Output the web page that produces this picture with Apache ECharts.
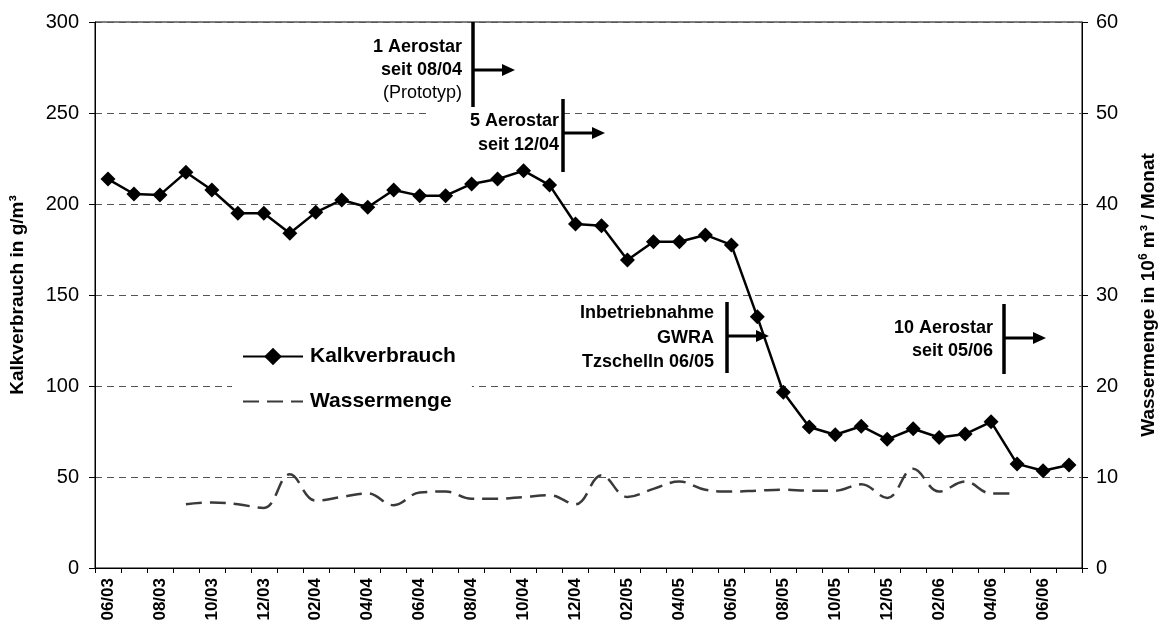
<!DOCTYPE html>
<html>
<head>
<meta charset="utf-8">
<script src="https://cdn.jsdelivr.net/npm/echarts@6/dist/echarts.min.js"></script>
<style>
  html, body { margin: 0; padding: 0; background: #fff; overflow: hidden; }
  #main { width: 1163px; height: 628px; }
</style>
</head>
<body>
<div id="main"></div>
<script>
var months = ['06/03','07/03','08/03','09/03','10/03','11/03','12/03','01/04','02/04','03/04',
    '04/04','05/04','06/04','07/04','08/04','09/04','10/04','11/04','12/04','01/05',
    '02/05','03/05','04/05','05/05','06/05','07/05','08/05','09/05','10/05','11/05',
    '12/05','01/06','02/06','03/06','04/06','05/06','06/06','07/06'];

var kalk = [213.7, 205.5, 205, 217.4, 207.7, 194.9, 194.9, 183.9, 195.4, 202.2,
    198.2, 207.7, 204.6, 204.6, 211, 213.7, 218.3, 210.4, 189, 188,
    169.2, 179.3, 179.3, 183, 177.5, 138, 96.5, 77.5, 73.2, 77.9,
    70.7, 76.5, 71.7, 73.6, 80.3, 57.2, 53.4, 56.6];

// Wassermenge in 10^6 m3 / Monat (rechte Achse)
var wasser = [null, null, null, 7.0, 7.2, 7.0, 6.6, 10.3, 7.4, 7.8,
    8.2, 6.9, 8.3, 8.4, 7.6, 7.6, 7.8, 8.0, 7.0, 10.2,
    7.8, 8.7, 9.5, 8.6, 8.4, 8.5, 8.6, 8.5, 8.5, 9.2,
    7.7, 10.9, 8.4, 9.5, 8.2, 8.2, null, null];

var leftTicks = [0, 300, 50];
var rightTicks = [0, 60, 10];

var FONT = '"Liberation Sans", Arial, sans-serif';

// Hinweis-Markierung: senkrechter Balken, Pfeil, Text rechtsbuendig
function marker(x, yTop, yBot, yArrow, lines, textX) {
    var els = [];
    els.push({
        type: 'line', z: 10,
        shape: {x1: x, y1: yTop, x2: x, y2: yBot},
        style: {stroke: '#000', lineWidth: 3.5}
    });
    els.push({
        type: 'line', z: 10,
        shape: {x1: x, y1: yArrow, x2: x + 31, y2: yArrow},
        style: {stroke: '#000', lineWidth: 3}
    });
    els.push({
        type: 'polygon', z: 10,
        shape: {points: [[x + 29, yArrow - 6], [x + 42, yArrow], [x + 29, yArrow + 6]]},
        style: {fill: '#000'}
    });
    lines.forEach(function (l) {
        els.push({
            type: 'text', z: 10,
            x: textX, y: l[1],
            style: {
                text: l[0],
                font: (l[2] ? 'bold ' : '') + '18px ' + FONT,
                fill: '#000',
                align: 'right',
                verticalAlign: 'middle'
            }
        });
    });
    return els;
}

var graphics = [].concat(
    [{
        type: 'rect', z: 5,
        shape: {x: 427, y: 104, width: 134, height: 56},
        style: {fill: '#fff'}
    }],
    marker(473, 22, 107, 70, [['1 Aerostar', 47, true], ['seit 08/04', 70, true], ['(Prototyp)', 93, false]], 462),
    marker(563, 99, 172, 133, [['5 Aerostar', 121, true], ['seit 12/04', 145, true]], 559),
    marker(727, 302, 373, 336, [['Inbetriebnahme', 313, true], ['GWRA', 338, true], ['Tzschelln 06/05', 362, true]], 714),
    marker(1004, 304, 374, 338, [['10 Aerostar', 328, true], ['seit 05/06', 351, true]], 993)
);

var myChart = echarts.init(document.getElementById('main'));
myChart.setOption({
    animation: false,
    backgroundColor: '#fff',
    textStyle: {fontFamily: FONT},
    grid: {
        left: 95, right: 81, top: 22, bottom: 60,
        containLabel: false,
        outerBoundsMode: 'none',
        show: true, borderColor: '#000', borderWidth: 1
    },
    legend: {
        orient: 'vertical',
        left: 232, top: 336,
        backgroundColor: '#fff',
        padding: [10, 16, 10, 10],
        itemWidth: 60,
        itemHeight: 22,
        itemGap: 24,
        data: [
            {name: 'Kalkverbrauch'},
            {name: 'Wassermenge', itemStyle: {opacity: 0}}
        ],
        textStyle: {fontSize: 21, fontWeight: 'bold', color: '#000', fontFamily: FONT, padding: [0, 0, 0, 2]}
    },
    xAxis: {
        type: 'category',
        data: months,
        boundaryGap: true,
        axisLine: {lineStyle: {color: '#000', width: 1}},
        axisTick: {show: true, interval: 0, length: 5, lineStyle: {color: '#000'}},
        axisLabel: {
            interval: 1, rotate: 90, margin: 10,
            fontSize: 17, fontWeight: 'bold', color: '#000', fontFamily: FONT
        },
        splitLine: {show: false}
    },
    yAxis: [{
        type: 'value',
        min: leftTicks[0], max: leftTicks[1], interval: leftTicks[2],
        name: 'Kalkverbrauch in g/m³',
        nameLocation: 'middle',
        nameRotate: 90,
        nameGap: 68,
        nameTextStyle: {fontSize: 19, fontWeight: 'bold', color: '#000', fontFamily: FONT},
        axisLine: {show: true, lineStyle: {color: '#000'}},
        axisTick: {show: true, length: 6, lineStyle: {color: '#000'}},
        axisLabel: {fontSize: 20, color: '#000', margin: 16, fontFamily: FONT},
        splitLine: {show: true, lineStyle: {color: '#555', type: [7, 5], width: 1}}
    }, {
        type: 'value',
        min: rightTicks[0], max: rightTicks[1], interval: rightTicks[2],
        name: 'Wassermenge in 10{sup|6} m³ / Monat',
        nameLocation: 'middle',
        nameRotate: 90,
        nameGap: 56,
        nameTextStyle: {
            fontSize: 19, fontWeight: 'bold', color: '#000', fontFamily: FONT,
            rich: {sup: {fontSize: 12, fontWeight: 'bold', verticalAlign: 'top', padding: [0, 0, 10, 0]}}
        },
        axisLine: {show: true, lineStyle: {color: '#000'}},
        axisTick: {show: true, length: 6, lineStyle: {color: '#000'}},
        axisLabel: {fontSize: 20, color: '#000', margin: 14, fontFamily: FONT},
        splitLine: {show: false}
    }],
    series: [{
        name: 'Kalkverbrauch',
        type: 'line',
        data: kalk,
        yAxisIndex: 0,
        symbol: 'diamond',
        symbolSize: 15,
        lineStyle: {color: '#000', width: 2.5},
        itemStyle: {color: '#000'},
        z: 3
    }, {
        name: 'Wassermenge',
        type: 'line',
        data: wasser,
        yAxisIndex: 1,
        smooth: 0.4,
        showSymbol: false,
        symbol: 'none',
        lineStyle: {color: '#3a3a3a', width: 2.5, type: [16, 8]},
        itemStyle: {color: '#3a3a3a'},
        z: 2
    }],
    graphic: graphics
});
</script>
</body>
</html>
